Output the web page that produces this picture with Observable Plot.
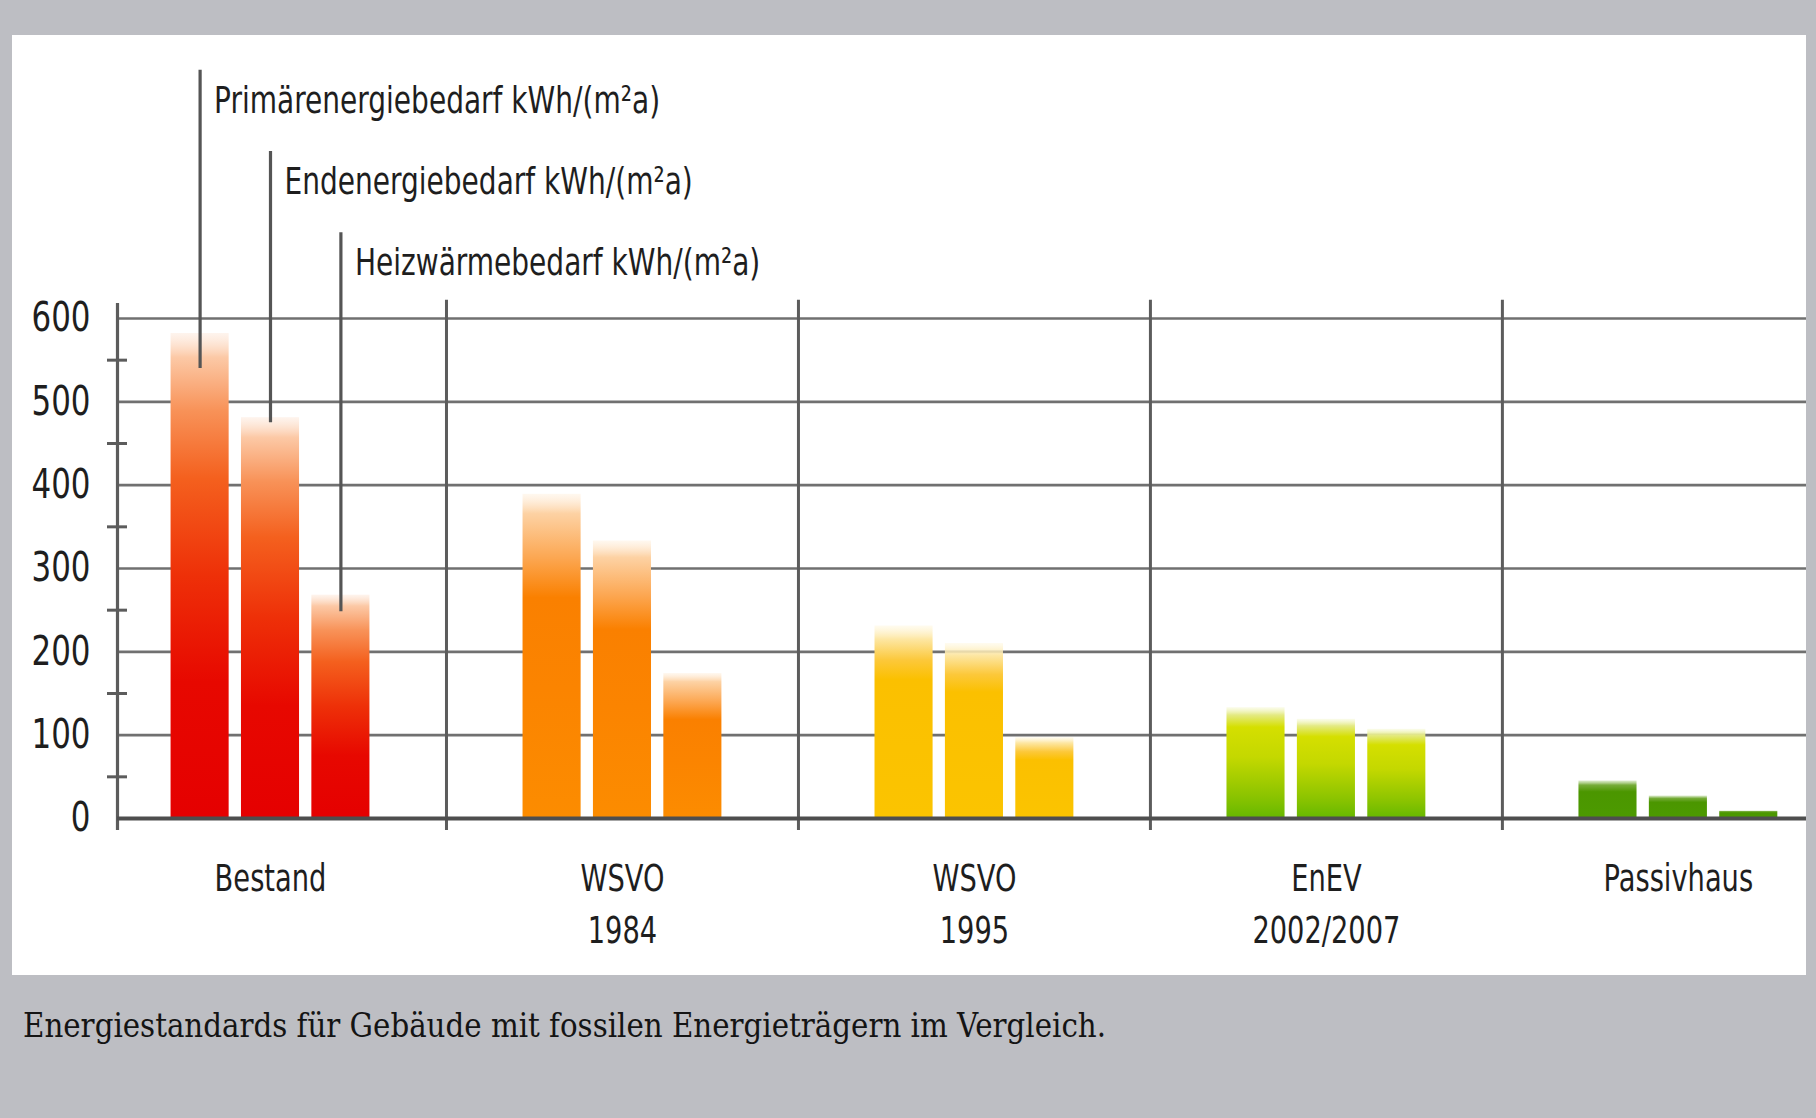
<!DOCTYPE html>
<html>
<head>
<meta charset="utf-8">
<script src="https://cdn.jsdelivr.net/npm/d3@7"></script>
<script src="https://cdn.jsdelivr.net/npm/@observablehq/plot@0.6"></script>
<style>
html, body { margin: 0; padding: 0; }
body { width: 1816px; height: 1118px; background: #bdbec3; position: relative; overflow: hidden; }
#panel { position: absolute; left: 12px; top: 35px; width: 1794px; height: 940px; background: #ffffff; }
#caption { position: absolute; left: 23px; top: 1010px; font-family: "DejaVu Serif Condensed", "DejaVu Serif", "Liberation Serif", serif; font-size: 32.6px; line-height: 1; color: #141414; white-space: nowrap; }
</style>
</head>
<body>
<div id="panel"></div>
<div id="caption"></div>
<script>
// ---- data ----
const groups = ["Bestand", "WSVO\n1984", "WSVO\n1995", "EnEV\n2002/2007", "Passivhaus"];
const seriesNames = ["Primärenergiebedarf kWh/(m²a)", "Endenergiebedarf kWh/(m²a)", "Heizwärmebedarf kWh/(m²a)"];
const primaerenergie = [582, 389, 231, 133, 45];
const endenergie = [481, 333, 210, 119, 27];
const heizwaerme = [268, 174, 97, 107, 9];
const leaderTips = [540, 475, 248];   // kWh value where each legend leader meets its Bestand bar
const yTicks = [0, 100, 200, 300, 400, 500, 600];
const yMinorTicks = [50, 150, 250, 350, 450, 550];
const captionText = "Energiestandards für Gebäude mit fossilen Energieträgern im Vergleich.";

// ---- styles ----
const gradientStops = [
  [[0, "#fde9dc", 0.5], [0.05, "#fcc9a6", 1], [0.16, "#f89258", 1], [0.3, "#f4601e", 1], [0.5, "#ee3008", 1], [0.72, "#e70800", 1], [1, "#e50000", 1]],
  [[0, "#fff1e0", 0.5], [0.06, "#fdd2a4", 1], [0.2, "#fca650", 1], [0.32, "#fa8000", 1], [0.6, "#fb8400", 1], [1, "#fc8c00", 1]],
  [[0, "#fff8e0", 0.5], [0.07, "#fde7a4", 1], [0.18, "#fcc83a", 1], [0.28, "#fbc000", 1], [1, "#fbc400", 1]],
  [[0, "#f6f9d8", 0.5], [0.07, "#e4ea84", 1], [0.18, "#d5df00", 1], [0.45, "#c4d800", 1], [0.8, "#8cc400", 1], [1, "#66b800", 1]],
  [[0, "#c9e0b0", 0.6], [0.12, "#77ac3a", 1], [0.3, "#4b9600", 1], [1, "#4c9a00", 1]]
];
const fontStack = '"DejaVu Sans Condensed", "DejaVu Sans", sans-serif';
const squeezeAxisY = 0.86, squeezeAxisX = 0.82, squeezeLegend = 0.82;

const seriesValues = [primaerenergie, endenergie, heizwaerme];
const rows = [];
groups.forEach((g, gi) => seriesValues.forEach((vals, si) => rows.push({g: gi, s: si, value: vals[gi]})));

const barStep = 0.2;      // distance between bars in one group (group units)
const barHalf = 0.0825;   // half bar width (group units)
const xDomain = [-0.4347, 4.364];
const axisTop = 622;
const labelTop = i => 898 - 97.5 * i;
const barCenter = d => d.g + (d.s - 1) * barStep;

const legendRows = seriesNames.map((name, i) => ({g: 0, s: i, name, tip: leaderTips[i]}));

const gridColor = "#707070";
const axisColor = "#5c5c5c";

const marks = [
  Plot.ruleY(yTicks.filter(t => t > 0), {stroke: gridColor, strokeWidth: 2.6}),
  ...groups.map((g, gi) => Plot.rectY(rows.filter(d => d.g === gi), {
    x1: d => barCenter(d) - barHalf,
    x2: d => barCenter(d) + barHalf,
    y: "value",
    fill: `url(#barGrad${gi})`
  })),
  Plot.ruleX(groups.slice(1).map((g, i) => i + 0.5), {y1: axisTop, y2: 0, insetBottom: -12, stroke: axisColor, strokeWidth: 3}),
  Plot.ruleX([xDomain[0]], {y1: axisTop - 4, y2: 0, insetBottom: -12, stroke: axisColor, strokeWidth: 3.2}),
  Plot.ruleY(yMinorTicks, {x1: xDomain[0], x2: xDomain[0], insetLeft: -10, insetRight: -10, stroke: axisColor, strokeWidth: 3}),
  Plot.ruleY([0], {stroke: "#4e4e4e", strokeWidth: 4}),
  Plot.ruleX(legendRows, {x: barCenter, y1: d => labelTop(d.s), y2: "tip", stroke: "#555555", strokeWidth: 3.2}),
  Plot.text(legendRows, {
    x: barCenter, y: d => labelTop(d.s) - 51, text: "name",
    textAnchor: "start", lineAnchor: "bottom", dx: 14,
    fontSize: 38, fill: "#1e1e1e"
  }),
  Plot.axisY({ticks: yTicks, tickSize: 0, tickPadding: 27, fontSize: 40, fill: "#1e1e1e", label: null}),
  Plot.axisX({
    ticks: groups.map((g, i) => i), tickFormat: i => groups[i],
    tickSize: 0, tickPadding: 36, fontSize: 37, lineHeight: 1.4, fill: "#1e1e1e", label: null
  })
];

const svg = Plot.plot({
  width: 1794,
  height: 940,
  marginLeft: 105,
  marginRight: 0,
  marginTop: 283,
  marginBottom: 157,
  style: {fontFamily: fontStack, background: "transparent", color: "#1e1e1e", overflow: "visible"},
  x: {type: "linear", domain: xDomain},
  y: {domain: [0, 600]},
  marks
});

// gradient definitions for the bars
const ns = "http://www.w3.org/2000/svg";
const defs = document.createElementNS(ns, "defs");
gradientStops.forEach((stops, gi) => {
  const lg = document.createElementNS(ns, "linearGradient");
  lg.setAttribute("id", `barGrad${gi}`);
  lg.setAttribute("x1", "0"); lg.setAttribute("y1", "0");
  lg.setAttribute("x2", "0"); lg.setAttribute("y2", "1");
  stops.forEach(([o, c, a]) => {
    const st = document.createElementNS(ns, "stop");
    st.setAttribute("offset", o);
    st.setAttribute("stop-color", c);
    st.setAttribute("stop-opacity", a);
    lg.appendChild(st);
  });
  defs.appendChild(lg);
});
svg.insertBefore(defs, svg.firstChild);

// narrow the lettering horizontally, as in the condensed face of the original
const yLabels = new Set(yTicks.map(String));
const xLabels = new Set(groups.map(g => g.replace("\n", "")));
const legendLabels = new Set(seriesNames);
svg.querySelectorAll("text").forEach(t => {
  const s = t.textContent;
  const sx = legendLabels.has(s) ? squeezeLegend : xLabels.has(s) ? squeezeAxisX : yLabels.has(s) ? squeezeAxisY : null;
  if (!sx) return;
  const tr = t.getAttribute("transform") || "";
  t.setAttribute("transform", `${tr} scale(${sx},1)`.trim());
});

document.getElementById("panel").appendChild(svg);
document.getElementById("caption").textContent = captionText;
</script>
</body>
</html>
